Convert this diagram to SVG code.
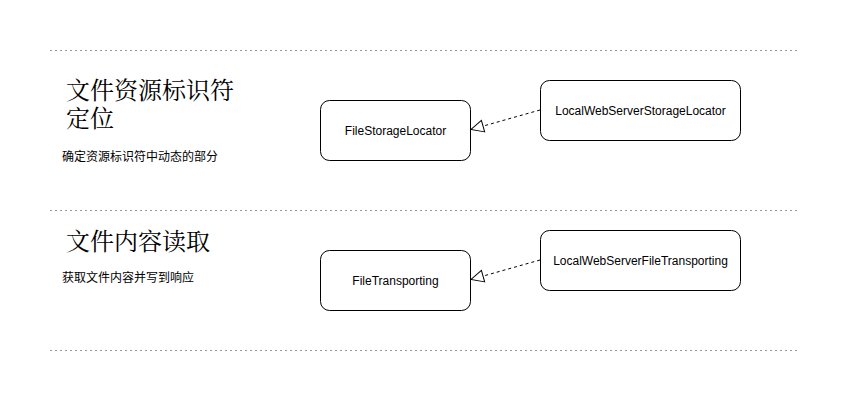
<svg xmlns="http://www.w3.org/2000/svg" width="852" height="402" viewBox="0 0 852 402">
<style>
.sep{stroke:#999;stroke-width:1;stroke-dasharray:2 3;fill:none}
.box{fill:#fff;stroke:#000;stroke-width:1}
.lbl{font-family:"Liberation Sans",Arial,sans-serif;font-size:12px;fill:#000;text-anchor:middle;dominant-baseline:central}
.h{font-family:"Noto Serif CJK SC","Noto Sans CJK SC",serif;font-size:24px;fill:#000}
.s{font-family:"Noto Sans CJK SC",sans-serif;font-size:12px;fill:#000}
.edge{stroke:#000;stroke-width:1;stroke-dasharray:3 3;fill:none}
</style>
<defs>
<marker id="tri" viewBox="0 0 16 16" refX="14" refY="8" markerWidth="16" markerHeight="16" markerUnits="userSpaceOnUse" orient="auto">
<path d="M1.5 2 L14 8 L1.5 14 Z" fill="#fff" stroke="#000" stroke-width="1"/>
</marker>
</defs>
<rect width="852" height="402" fill="#fff"/>
<g id="separators">
<line class="sep" x1="50" y1="50.5" x2="797" y2="50.5"/>
<line class="sep" x1="50" y1="210.5" x2="797" y2="210.5"/>
<line class="sep" x1="50" y1="350.5" x2="797" y2="350.5"/>
</g>
<g id="section1-text">
<text class="h" x="66" y="99">文件资源标识符<tspan x="66" dy="28">定位</tspan></text>
<text class="s" x="62" y="161">确定资源标识符中动态的部分</text>
</g>
<g id="section2-text">
<text class="h" x="66" y="250">文件内容读取</text>
<text class="s" x="62" y="282">获取文件内容并写到响应</text>
</g>
<g id="connectors">
<path class="edge" d="M540 110 L471 129.5" marker-end="url(#tri)"/>
<path class="edge" d="M540 260 L471 279.5" marker-end="url(#tri)"/>
</g>
<g id="FileStorageLocator">
<rect class="box" x="320.5" y="100.5" width="150" height="60" rx="9"/>
<text class="lbl" x="395.5" y="130.5">FileStorageLocator</text>
</g>
<g id="LocalWebServerStorageLocator">
<rect class="box" x="540.5" y="80.5" width="200" height="60" rx="9"/>
<text class="lbl" x="640.5" y="110.5">LocalWebServerStorageLocator</text>
</g>
<g id="FileTransporting">
<rect class="box" x="320.5" y="250.5" width="150" height="60" rx="9"/>
<text class="lbl" x="395.5" y="280.5">FileTransporting</text>
</g>
<g id="LocalWebServerFileTransporting">
<rect class="box" x="540.5" y="230.5" width="200" height="60" rx="9"/>
<text class="lbl" x="640.5" y="260.5">LocalWebServerFileTransporting</text>
</g>
</svg>
